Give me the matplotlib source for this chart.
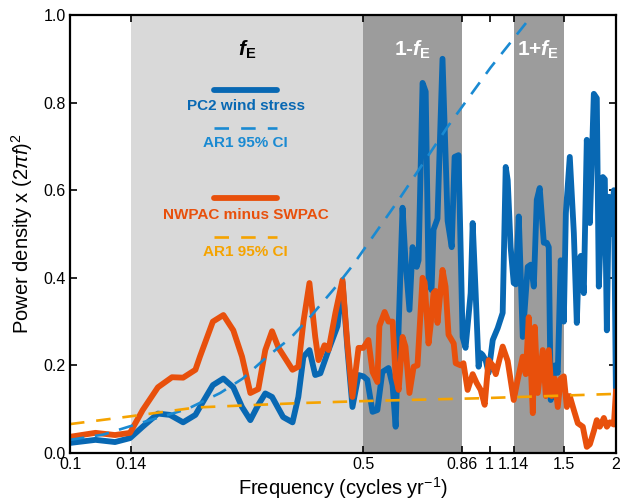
import matplotlib
matplotlib.use("Agg")
import matplotlib.pyplot as plt
from matplotlib.ticker import FixedLocator, FixedFormatter, NullLocator
from matplotlib.lines import Line2D

plt.rcParams['font.family'] = ['Liberation Sans', 'DejaVu Sans']
plt.rcParams['mathtext.fontset'] = 'custom'
plt.rcParams['mathtext.rm'] = 'Liberation Sans'
plt.rcParams['mathtext.it'] = 'Liberation Sans:italic'
plt.rcParams['mathtext.bf'] = 'Liberation Sans:bold'
plt.rcParams['mathtext.bfit'] = 'Liberation Sans:italic:bold'
plt.rcParams['mathtext.sf'] = 'Liberation Sans'

# ---------------- data ----------------
blue_f = [0.100, 0.115, 0.128, 0.139, 0.149, 0.162, 0.173, 0.186, 0.199, 0.204,
          0.219, 0.232, 0.245, 0.257, 0.269, 0.281, 0.292, 0.303, 0.322, 0.339,
          0.350, 0.360, 0.372, 0.384, 0.395, 0.413, 0.434, 0.446, 0.458, 0.471,
          0.487, 0.500, 0.511, 0.526, 0.540, 0.555, 0.574, 0.587, 0.597, 0.607,
          0.620, 0.630, 0.644, 0.655, 0.670, 0.677, 0.692, 0.704, 0.715, 0.727,
          0.735, 0.751, 0.772, 0.794, 0.812, 0.825, 0.843, 0.862, 0.876, 0.901,
          0.911, 0.926, 0.941, 0.952, 0.962, 0.978, 0.994, 1.017, 1.045, 1.074,
          1.092, 1.104, 1.122, 1.141, 1.154, 1.173, 1.199, 1.232, 1.253, 1.274,
          1.295, 1.316, 1.346, 1.368, 1.383, 1.398, 1.429, 1.453, 1.477, 1.502,
          1.519, 1.552, 1.587, 1.613, 1.631, 1.649, 1.676, 1.704, 1.733, 1.771,
          1.800, 1.820, 1.861, 1.881, 1.902, 1.923, 1.944, 1.977, 1.999]
blue_v = [0.023, 0.030, 0.025, 0.034, 0.060, 0.090, 0.087, 0.070, 0.087, 0.105,
          0.155, 0.170, 0.150, 0.105, 0.075, 0.110, 0.136, 0.128, 0.082, 0.070,
          0.128, 0.220, 0.235, 0.178, 0.182, 0.235, 0.290, 0.390, 0.240, 0.105,
          0.178, 0.175, 0.167, 0.094, 0.098, 0.185, 0.194, 0.155, 0.060, 0.290,
          0.560, 0.440, 0.327, 0.470, 0.425, 0.440, 0.845, 0.825, 0.400, 0.372,
          0.510, 0.535, 0.900, 0.530, 0.470, 0.676, 0.680, 0.265, 0.240, 0.365,
          0.525, 0.365, 0.197, 0.228, 0.224, 0.212, 0.183, 0.258, 0.285, 0.320,
          0.653, 0.623, 0.470, 0.388, 0.385, 0.540, 0.265, 0.425, 0.430, 0.380,
          0.578, 0.605, 0.480, 0.480, 0.470, 0.121, 0.200, 0.183, 0.440, 0.300,
          0.548, 0.676, 0.502, 0.297, 0.440, 0.450, 0.365, 0.715, 0.525, 0.820,
          0.810, 0.380, 0.630, 0.625, 0.280, 0.585, 0.500, 0.600, 0.137]

orange_f = [0.100, 0.115, 0.128, 0.139, 0.149, 0.162, 0.175, 0.186, 0.199, 0.204,
            0.219, 0.232, 0.245, 0.257, 0.269, 0.281, 0.292, 0.303, 0.314, 0.339,
            0.350, 0.360, 0.372, 0.384, 0.391, 0.404, 0.413, 0.429, 0.446, 0.458,
            0.471, 0.487, 0.500, 0.514, 0.526, 0.540, 0.546, 0.562, 0.574, 0.587,
            0.597, 0.607, 0.620, 0.630, 0.644, 0.659, 0.673, 0.692, 0.700, 0.715,
            0.723, 0.735, 0.743, 0.751, 0.772, 0.785, 0.798, 0.821, 0.830, 0.853,
            0.866, 0.886, 0.911, 0.931, 0.952, 0.973, 0.994, 1.017, 1.034, 1.074,
            1.104, 1.141, 1.166, 1.199, 1.219, 1.239, 1.267, 1.281, 1.302, 1.338,
            1.361, 1.383, 1.406, 1.429, 1.453, 1.477, 1.502, 1.527, 1.552, 1.587,
            1.622, 1.667, 1.704, 1.733, 1.771, 1.800, 1.830, 1.871, 1.902, 1.934,
            1.977, 1.999]
orange_v = [0.037, 0.046, 0.041, 0.046, 0.098, 0.150, 0.173, 0.172, 0.190, 0.220,
            0.300, 0.315, 0.280, 0.220, 0.137, 0.146, 0.235, 0.278, 0.240, 0.190,
            0.197, 0.300, 0.388, 0.265, 0.212, 0.246, 0.235, 0.320, 0.395, 0.250,
            0.128, 0.240, 0.240, 0.258, 0.185, 0.162, 0.290, 0.322, 0.300, 0.300,
            0.173, 0.144, 0.265, 0.243, 0.137, 0.197, 0.200, 0.400, 0.390, 0.250,
            0.290, 0.365, 0.370, 0.297, 0.418, 0.380, 0.270, 0.250, 0.205, 0.200,
            0.205, 0.144, 0.180, 0.160, 0.144, 0.110, 0.212, 0.200, 0.180, 0.243,
            0.210, 0.121, 0.167, 0.220, 0.180, 0.310, 0.091, 0.288, 0.137, 0.235,
            0.130, 0.235, 0.130, 0.170, 0.105, 0.170, 0.175, 0.105, 0.130, 0.098,
            0.068, 0.060, 0.014, 0.020, 0.050, 0.075, 0.060, 0.080, 0.060, 0.070,
            0.065, 0.140]

blue_ci_f = [0.100, 0.120, 0.149, 0.190, 0.228, 0.258, 0.295, 0.335, 0.373,
             0.433, 0.473, 0.607, 0.794, 1.005, 1.240, 1.300]
blue_ci_v = [0.030, 0.042, 0.070, 0.100, 0.137, 0.170, 0.220, 0.262, 0.310,
             0.383, 0.430, 0.578, 0.745, 0.880, 0.990, 1.020]

orange_ci_f = [0.100, 0.140, 0.200, 0.354, 0.520, 0.950, 2.000]
orange_ci_v = [0.066, 0.084, 0.104, 0.114, 0.119, 0.125, 0.135]

light_band = (0.14, 0.5)
dark_bands = [(0.5, 0.86), (1.14, 1.5)]
x_ticks = [0.1, 0.14, 0.5, 0.86, 1, 1.14, 1.5, 2]
x_ticklabels = ['0.1', '0.14', '0.5', '0.86', '1', '1.14', '1.5', '2']
y_ticks = [0.0, 0.2, 0.4, 0.6, 0.8, 1.0]
y_ticklabels = ['0.0', '0.2', '0.4', '0.6', '0.8', '1.0']

BLUE = '#0868b3'
BLUE_CI = '#1a8ad2'
ORANGE = '#e8500c'
ORANGE_CI = '#f5a300'
LW = 4.2

# ---------------- figure ----------------
fig = plt.figure(figsize=(6.26, 5.0), dpi=100)
ax = fig.add_axes([70/626, 47/500, 546/626, 438/500])

ax.axvspan(*light_band, color='#d9d9d9', lw=0, zorder=0)
for b in dark_bands:
    ax.axvspan(*b, color='#9c9c9c', lw=0, zorder=0)

ax.plot(blue_f, blue_v, color=BLUE, lw=LW, solid_joinstyle='round', zorder=3)
ax.plot(orange_f, orange_v, color=ORANGE, lw=LW, solid_joinstyle='round', zorder=4)
ax.plot(blue_ci_f, blue_ci_v, color=BLUE_CI, lw=1.9, dashes=(5.5, 4), zorder=5)
ax.plot(orange_ci_f, orange_ci_v, color=ORANGE_CI, lw=1.9, dashes=(5.5, 4.5), zorder=5)

ax.set_xscale('log')
ax.set_xlim(0.1, 2)
ax.set_ylim(0, 1)
ax.xaxis.set_major_locator(FixedLocator(x_ticks))
ax.xaxis.set_major_formatter(FixedFormatter(x_ticklabels))
ax.xaxis.set_minor_locator(NullLocator())
ax.yaxis.set_major_locator(FixedLocator(y_ticks))
ax.yaxis.set_major_formatter(FixedFormatter(y_ticklabels))
ax.tick_params(direction='in', length=5, width=1.2, labelsize=11.5,
               top=True, right=True, pad=3)
for s in ax.spines.values():
    s.set_linewidth(1.6)
    s.set_zorder(10)

ax.set_xlabel('Frequency (cycles yr$^{\\mathrm{-1}}$)', fontsize=14.5, labelpad=2)
ax.set_ylabel(r'Power density x (2$\pi f$)$^2$', fontsize=14.5, labelpad=6)

# band labels
trans = ax.get_xaxis_transform()
ax.text((0.14*0.5)**0.5, 0.92, r'$\mathbfit{f}_{\mathbf{E}}$', transform=trans,
        ha='center', va='center', fontsize=15, color='black')
ax.text((0.5*0.86)**0.5, 0.92, r'1-$\mathbfit{f}_{\mathbf{E}}$', transform=trans,
        ha='center', va='center', fontsize=15, color='white', fontweight='bold')
ax.text((1.14*1.5)**0.5, 0.92, r'1+$\mathbfit{f}_{\mathbf{E}}$', transform=trans,
        ha='center', va='center', fontsize=15, color='white', fontweight='bold')

# legend (manual)
lx0, lx1, lxc = 0.264, 0.379, 0.3215
ax.add_line(Line2D([lx0, lx1], [0.829, 0.829], transform=ax.transAxes,
                   color=BLUE, lw=LW, solid_capstyle='round', zorder=6))
ax.text(lxc, 0.792, 'PC2 wind stress', transform=ax.transAxes, ha='center',
        va='center', fontsize=11, fontweight='bold', color=BLUE)
ax.add_line(Line2D([lx0, lx1], [0.742, 0.742], transform=ax.transAxes,
                   color=BLUE_CI, lw=1.9, dashes=(5.5, 4.6), zorder=6))
ax.text(lxc, 0.708, 'AR1 95% CI', transform=ax.transAxes, ha='center',
        va='center', fontsize=11, fontweight='bold', color=BLUE_CI)
ax.add_line(Line2D([lx0, lx1], [0.582, 0.582], transform=ax.transAxes,
                   color=ORANGE, lw=LW, solid_capstyle='round', zorder=6))
ax.text(lxc, 0.543, 'NWPAC minus SWPAC', transform=ax.transAxes, ha='center',
        va='center', fontsize=11, fontweight='bold', color=ORANGE)
ax.add_line(Line2D([lx0, lx1], [0.493, 0.493], transform=ax.transAxes,
                   color=ORANGE_CI, lw=1.9, dashes=(5.5, 4.6), zorder=6))
ax.text(lxc, 0.459, 'AR1 95% CI', transform=ax.transAxes, ha='center',
        va='center', fontsize=11, fontweight='bold', color=ORANGE_CI)

fig.savefig('out.png', dpi=100)
